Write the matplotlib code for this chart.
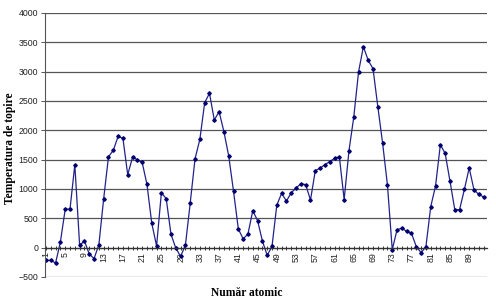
import matplotlib
matplotlib.use('Agg')
import matplotlib.pyplot as plt
import numpy as np

# atomic number (category) and melting temperature
atomic_number = np.arange(1, 93)
temperature = [
    -216, -216, -261, 97, 653, 659, 1414, 40, 114, -108,
    -187, 51, 835, 1551, 1659, 1897, 1863, 1244, 1539, 1500,
    1454, 1079, 415, 28, 938, 835, 227, -10, -148, 45,
    767, 1517, 1847, 2472, 2631, 2176, 2318, 1977, 1562, 960,
    318, 150, 233, 631, 460, 114, -131, 23, 727, 926,
    795, 937, 1017, 1091, 1074, 812, 1312, 1358, 1414, 1468,
    1522, 1550, 820, 1653, 2227, 3000, 3426, 3193, 3051, 2403,
    1778, 1068, -35, 307, 332, 278, 244, 17, -85, 17,
    699, 1051, 1755, 1607, 1136, 648, 648, 994, 1358, 983,
    909, 863,
]
x_labels = list(range(1, 93, 4))
y_ticks = list(range(-500, 4001, 500))

fig = plt.figure(figsize=(4.96, 3.06), dpi=100)
ax = fig.add_axes([45/496, 29/306, 442/496, 264/306])

# spine position first, it resets the tick setup
ax.spines['bottom'].set_position(('data', 0))
ax.spines['top'].set_visible(False)
ax.spines['right'].set_visible(False)
ax.spines['left'].set_color('#555555')
ax.spines['left'].set_linewidth(0.8)
ax.spines['bottom'].set_color('#333333')
ax.spines['bottom'].set_linewidth(0.9)

ax.plot(atomic_number, temperature, color='#22228a', lw=0.9,
        marker='D', markersize=1.8, markerfacecolor='#000070',
        markeredgecolor='#000070')

ax.set_ylim(-500, 4000)
ax.set_xlim(0.8, 92.7)
ax.set_yticks(y_ticks)
ax.set_xticks(x_labels)
ax.set_xticks(atomic_number, minor=True)
ax.set_xticklabels([str(v) for v in x_labels])

ax.tick_params(axis='x', which='both', direction='inout', length=3,
               width=0.7, color='#333333', pad=1.5, labelrotation=90,
               labelsize=6.3, labelcolor='#222222')
ax.tick_params(axis='y', direction='out', length=3, width=0.7,
               color='#555555', pad=2, labelsize=6.3, labelcolor='#222222')
for t in ax.get_xticklabels() + ax.get_yticklabels():
    t.set_family('Liberation Sans')

ax.yaxis.grid(True, color='#555555', lw=0.9)
ax.set_axisbelow(True)

fig.text(0.498, 0.043, 'Număr atomic', ha='center', va='center',
         fontsize=8.3, fontweight='bold', family='Liberation Serif')
fig.text(0.021, 0.516, 'Temperatura de topire', ha='center', va='center',
         rotation=90, fontsize=8.3, fontweight='bold',
         family='Liberation Serif')

plt.savefig('out.png', dpi=100)
